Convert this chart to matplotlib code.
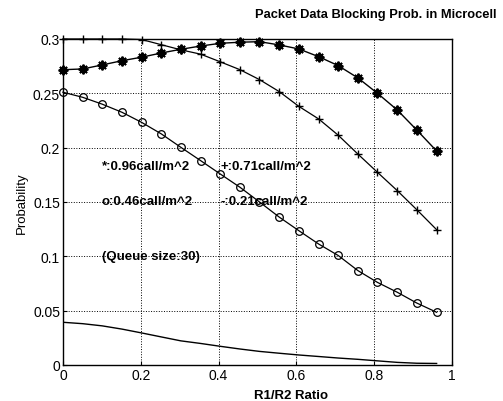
import matplotlib
matplotlib.use('Agg')
import matplotlib.pyplot as plt

plt.rc('font', family='Liberation Sans')

# R1/R2 ratio sample points
ratio = [0.0, 0.051, 0.101, 0.152, 0.202, 0.253, 0.303, 0.354, 0.404, 0.455,
         0.505, 0.556, 0.606, 0.657, 0.707, 0.758, 0.808, 0.859, 0.909, 0.96]

# blocking probability for each arrival rate
p096 = [0.2717, 0.2724, 0.2761, 0.2800, 0.2832, 0.2871, 0.2905, 0.2935, 0.2960, 0.2970,
        0.2975, 0.2945, 0.2908, 0.2837, 0.2755, 0.2641, 0.2500, 0.2346, 0.2162, 0.1969]
p071 = [0.3000, 0.3000, 0.3000, 0.3000, 0.2995, 0.2947, 0.2900, 0.2860, 0.2790, 0.2717,
        0.2626, 0.2515, 0.2380, 0.2264, 0.2115, 0.1940, 0.1773, 0.1604, 0.1429, 0.1245]
p046 = [0.2510, 0.2463, 0.2400, 0.2325, 0.2233, 0.2126, 0.2003, 0.1880, 0.1758, 0.1635,
        0.1500, 0.1360, 0.1236, 0.1113, 0.1008, 0.0868, 0.0760, 0.0669, 0.0570, 0.0485]
p021 = [0.0393, 0.0380, 0.0360, 0.0330, 0.0295, 0.0258, 0.0222, 0.0198, 0.0172, 0.0147,
        0.0125, 0.0108, 0.0092, 0.0078, 0.0064, 0.0052, 0.0038, 0.0024, 0.0016, 0.0014]

xticks = [0, 0.2, 0.4, 0.6, 0.8, 1]
xlabels = ['0', '0.2', '0.4', '0.6', '0.8', '1']
yticks = [0, 0.05, 0.1, 0.15, 0.2, 0.25, 0.3]
ylabels = ['0', '0.05', '0.1', '0.15', '0.2', '0.25', '0.3']

fig = plt.figure(figsize=(5.03, 4.02), dpi=100)
ax = fig.add_axes([0.125, 0.0896, 0.774, 0.811])

ax.plot(ratio, p096, color='black', lw=1.0, marker=(8, 2, 0), ms=7, mew=1.4,
        clip_on=False)
ax.plot(ratio, p071, color='black', lw=0.9, marker='+', ms=6, mew=1.0,
        clip_on=False)
ax.plot(ratio, p046, color='black', lw=0.9, marker='o', ms=5.5, mew=0.9,
        markerfacecolor='none', clip_on=False)
ax.plot(ratio, p021, color='black', lw=1.0)

ax.set_xlim(0, 1)
ax.set_ylim(0, 0.3)
ax.set_xticks(xticks)
ax.set_xticklabels(xlabels)
ax.set_yticks(yticks)
ax.set_yticklabels(ylabels)
ax.tick_params(direction='in', length=3, labelsize=10, pad=2, colors='black')
ax.grid(True, linestyle=':', color='black', lw=0.7)
for s in ax.spines.values():
    s.set_color('black')
    s.set_linewidth(1.0)

ax.text(0.1, 0.183, '*:0.96call/m^2', fontsize=9.5, fontweight='bold', va='center')
ax.text(0.405, 0.183, '+:0.71call/m^2', fontsize=9.5, fontweight='bold', va='center')
ax.text(0.1, 0.151, 'o:0.46call/m^2', fontsize=9.5, fontweight='bold', va='center')
ax.text(0.405, 0.151, '-:0.21call/m^2', fontsize=9.5, fontweight='bold', va='center')
ax.text(0.1, 0.1, '(Queue size:30)', fontsize=9.5, fontweight='bold', va='center')

ax.set_xlabel('R1/R2 Ratio', fontsize=9.5, fontweight='bold')
ax.xaxis.set_label_coords(0.586, -0.075)
ax.set_ylabel('Probability', fontsize=9.5, labelpad=4)
fig.text(0.988, 0.963, 'Packet Data Blocking Prob. in Microcell', fontsize=9.3,
         fontweight='bold', ha='right', va='center')

fig.savefig('out.png', dpi=100)
